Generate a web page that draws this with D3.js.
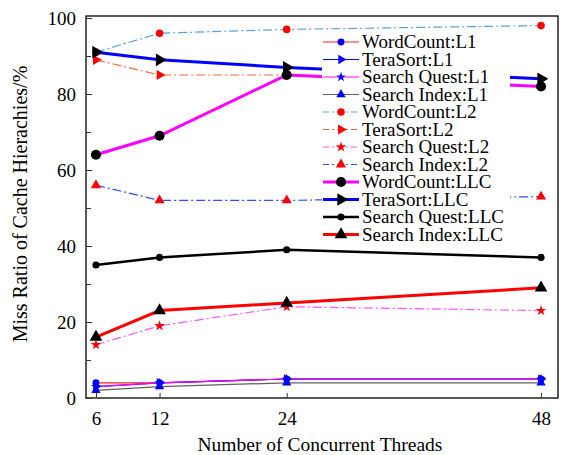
<!DOCTYPE html>
<html>
<head>
<meta charset="utf-8">
<script src="https://cdn.jsdelivr.net/npm/d3@7"></script>
<style>
  body { margin: 0; background: #fff; }
  svg text { font-family: 'Liberation Serif', 'Times New Roman', Times, 'DejaVu Serif', 'Noto Serif', serif; fill: #000; }
</style>
</head>
<body>
<svg id="chart" width="562" height="455"></svg>
<script>
const threads = [6, 12, 24, 48]
const yTicks  = [0, 20, 40, 60, 80, 100]

const wordCountL1   = [4, 4, 5, 5]
const teraSortL1    = [3, 4, 5, 5]
const searchQuestL1 = [3, 4, 5, 5]
const searchIndexL1 = [2, 3, 4, 4]

const wordCountL2   = [91, 96, 97, 98]
const teraSortL2    = [89, 85, 85, 84]
const searchQuestL2 = [14, 19, 24, 23]
const searchIndexL2 = [56, 52, 52, 53]

const wordCountLLC   = [64, 69, 85, 82]
const teraSortLLC    = [91, 89, 87, 84]
const searchQuestLLC = [35, 37, 39, 37]
const searchIndexLLC = [16, 23, 25, 29]

const dashDot = '9,3,2,3'

// name, values, line colour, marker fill, marker shape, dash, width, marker size
const series = [
  ['WordCount:L1',    wordCountL1,    '#ff2020', '#0000ff', 'circle', null,    1.2, 38],
  ['TeraSort:L1',     teraSortL1,     '#0000ff', '#0000ff', 'right',  null,    1.2, 38],
  ['Search Quest:L1', searchQuestL1,  '#ff00ff', '#0000ff', 'star',   null,    1.2, 30],
  ['Search Index:L1', searchIndexL1,  '#606060', '#0000ff', 'up',     null,    1.2, 38],
  ['WordCount:L2',    wordCountL2,    '#5ba3d6', '#ff0000', 'circle', dashDot, 1.2, 45],
  ['TeraSort:L2',     teraSortL2,     '#ee6a40', '#ff0000', 'right',  dashDot, 1.2, 45],
  ['Search Quest:L2', searchQuestL2,  '#ff55ff', '#ff0000', 'star',   dashDot, 1.2, 35],
  ['Search Index:L2', searchIndexL2,  '#2f4cff', '#ff0000', 'up',     dashDot, 1.2, 45],
  ['WordCount:LLC',   wordCountLLC,   '#ff00ff', '#000000', 'circle', null,    3,   80],
  ['TeraSort:LLC',    teraSortLLC,    '#0000ff', '#000000', 'right',  null,    3,   70],
  ['Search Quest:LLC',searchQuestLLC, '#000000', '#000000', 'circle', null,    2.5, 40],
  ['Search Index:LLC',searchIndexLLC, '#ff0000', '#000000', 'up',     null,    3,   70]
]

const svg = d3.select('#chart')
const plotLeft = 86, plotRight = 558, plotTop = 16, plotBottom = 398

const x = d3.scaleLinear().domain([5.06, 49.6]).range([plotLeft, plotRight])
const y = d3.scaleLinear().domain([0, 100]).range([plotBottom, 18])

const shapes = {
  circle: d3.symbolCircle,
  right:  d3.symbolTriangle,
  star:   d3.symbolStar,
  up:     d3.symbolTriangle
}

function marker(g, s, cx, cy)
{
  g.append('path')
    .attr('d', d3.symbol().type(shapes[s[4]]).size(s[7])())
    .attr('transform', `translate(${cx},${cy})` + (s[4] === 'right' ? ' rotate(90)' : ''))
    .attr('fill', s[3])
}

// frame
svg.append('rect')
  .attr('x', plotLeft).attr('y', plotTop)
  .attr('width', plotRight - plotLeft).attr('height', plotBottom - plotTop)
  .attr('fill', 'none').attr('stroke', '#000').attr('stroke-width', 1.3)

// axes
const yAxis = d3.axisLeft(y).tickValues(yTicks).tickSize(-6).tickPadding(8)
const yMinor = d3.axisLeft(y).tickValues(d3.range(10, 100, 20)).tickSize(-5).tickFormat('')
const xAxis = d3.axisBottom(x).tickValues(threads).tickSize(-5).tickPadding(10)

const gy = svg.append('g').attr('transform', `translate(${plotLeft},0)`).call(yAxis)
svg.append('g').attr('transform', `translate(${plotLeft},0)`).call(yMinor)
const gx = svg.append('g').attr('transform', `translate(0,${plotBottom})`).call(xAxis)

svg.selectAll('.domain').remove()
svg.selectAll('g').attr('font-family', null)
svg.selectAll('.tick line').attr('stroke', '#333')
gy.selectAll('text').style('font-size', '19px').attr('dx', '-2')
gx.selectAll('text').style('font-size', '19px').attr('dy', '0.9em')

// lines and markers
const line = d3.line().x((d, i) => x(threads[i])).y(d => y(d))

series.forEach(s =>
{
  svg.append('path')
    .datum(s[1])
    .attr('d', line)
    .attr('fill', 'none')
    .attr('stroke', s[2])
    .attr('stroke-width', s[6])
    .attr('stroke-dasharray', s[5])
})
series.forEach(s =>
{
  const g = svg.append('g')
  s[1].forEach((v, i) => marker(g, s, x(threads[i]), y(v)))
})

// legend
const lgX = 322, lgY = 33, rowH = 17.5
svg.append('rect')
  .attr('x', lgX).attr('y', lgY)
  .attr('width', 188).attr('height', 213)
  .attr('fill', '#fff')

series.forEach((s, i) =>
{
  const cy = lgY + 9 + i * rowH
  const g = svg.append('g')
  g.append('line')
    .attr('x1', lgX + 1).attr('x2', lgX + 37)
    .attr('y1', cy).attr('y2', cy)
    .attr('stroke', s[2])
    .attr('stroke-width', s[6])
    .attr('stroke-dasharray', s[5] ? '6,3,2,3' : null)
  marker(g, s, lgX + 19, cy)
  g.append('text')
    .attr('x', lgX + 40).attr('y', cy)
    .attr('dy', '0.33em')
    .style('font-size', '19px')
    .text(s[0])
})

// axis titles
svg.append('text')
  .attr('x', 320).attr('y', 451)
  .attr('text-anchor', 'middle')
  .style('font-size', '19.5px')
  .text('Number of Concurrent Threads')

svg.append('text')
  .attr('transform', 'translate(27,204) rotate(-90)')
  .attr('text-anchor', 'middle')
  .style('font-size', '20px')
  .text('Miss Ratio of Cache Hierachies/%')
</script>
</body>
</html>
